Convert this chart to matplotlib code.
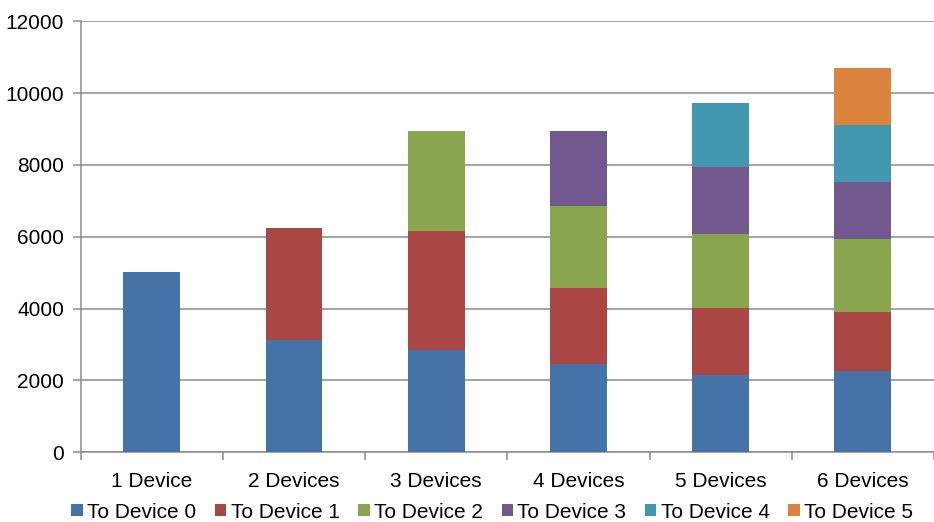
import numpy as np
import matplotlib
matplotlib.use("Agg")
import matplotlib.pyplot as plt

plt.rcParams['font.family'] = ['Liberation Sans', 'DejaVu Sans']

categories = ['1 Device', '2 Devices', '3 Devices', '4 Devices', '5 Devices', '6 Devices']
series_names = ['To Device 0', 'To Device 1', 'To Device 2', 'To Device 3', 'To Device 4', 'To Device 5']

# segment values per series (0 where the series is absent)
to_dev0 = [5020, 3120, 2850, 2460, 2145, 2255]
to_dev1 = [0, 3120, 3310, 2125, 1865, 1655]
to_dev2 = [0, 0, 2790, 2275, 2060, 2035]
to_dev3 = [0, 0, 0, 2090, 1870, 1580]
to_dev4 = [0, 0, 0, 0, 1790, 1595]
to_dev5 = [0, 0, 0, 0, 0, 1590]

colors = ['#4572A7', '#AA4643', '#89A54E', '#71588F', '#4198AF', '#DB843D']

fig = plt.figure(figsize=(9.34, 5.22), dpi=100)
ax = fig.add_axes([80.7 / 934, 1 - 452.3 / 522, 1 - 80.7 / 934, (452.3 - 21.3) / 522])

x = np.arange(len(categories))
bottom = np.zeros(len(categories))
for name, vals, c in zip(series_names, [to_dev0, to_dev1, to_dev2, to_dev3, to_dev4, to_dev5], colors):
    vals = np.array(vals, dtype=float)
    ax.bar(x, vals, 0.4, bottom=bottom, color=c, label=name, zorder=3,
           edgecolor='none')
    bottom += vals

ax.set_ylim(0, 12000)
ax.set_yticks(range(0, 12001, 2000))
ax.set_xlim(-0.5, 5.446)
ax.set_xticks(x)
ax.set_xticklabels(categories)
ax.set_xticks(np.arange(-0.5, 6, 1), minor=True)

ax.yaxis.grid(True, color='#8c8c8c', linewidth=1.1, zorder=0)
for s in ['top', 'right']:
    ax.spines[s].set_visible(False)
for s in ['left', 'bottom']:
    ax.spines[s].set_color('#8c8c8c')
    ax.spines[s].set_linewidth(1.1)

ax.tick_params(axis='y', length=6, color='#8c8c8c', width=1.1, labelsize=15, pad=6)
ax.tick_params(axis='x', which='major', length=0, labelsize=15, pad=14)
ax.tick_params(axis='x', which='minor', length=6, color='#8c8c8c', width=1.1)

fig.legend(loc='lower center', bbox_to_anchor=(0.527, -0.035), ncol=6, frameon=False,
           fontsize=15, handlelength=0.55, handleheight=0.55, handletextpad=0.2,
           columnspacing=0.9)

fig.savefig('out.png', dpi=100)
